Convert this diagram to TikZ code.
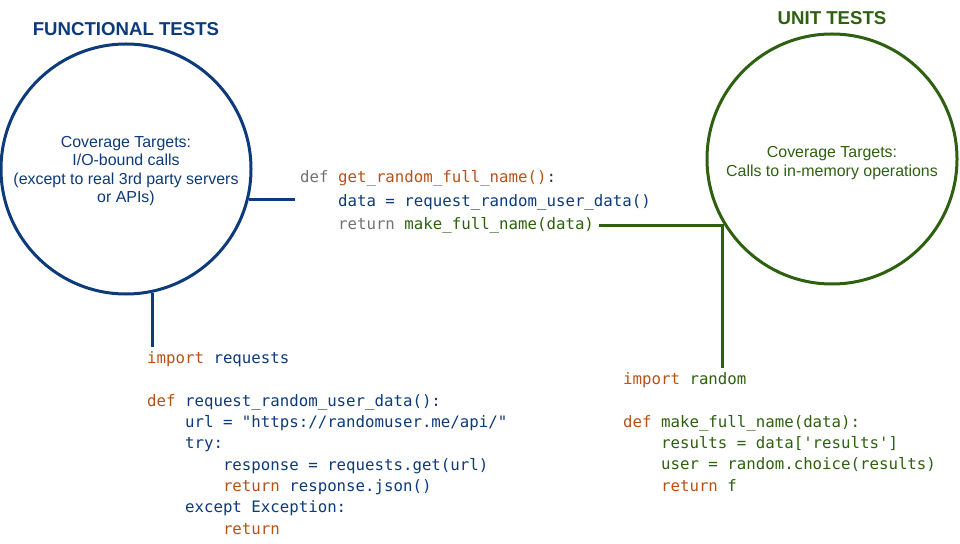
\documentclass[tikz,border=0pt]{standalone}
\usepackage{fontspec}
\setmainfont{Liberation Sans}
\setmonofont{DejaVu Sans Mono}
\usepackage{tikz}
\usetikzlibrary{positioning}
\definecolor{ftblue}{RGB}{12,58,122}
\definecolor{utgreen}{RGB}{45,96,15}
\definecolor{kwred}{RGB}{183,82,22}
\definecolor{kwgray}{RGB}{115,115,115}
\newcommand{\ind}{\hphantom{xxxx}}

\begin{document}
\begin{tikzpicture}[x=1bp, y=-1bp,
        ring/.style={circle, draw, line width=3bp, minimum size=250bp, inner sep=0},
        heading/.style={font=\bfseries\fontsize{18.7}{21}\selectfont, inner sep=0},
        target/.style={align=center, font=\fontsize{16}{18.3}\selectfont, inner sep=0},
        codeline/.style={anchor=base west, inner sep=5bp, font=\ttfamily\fontsize{15.8}{21.4}\selectfont},
        codeblock/.style={align=left, anchor=north west, inner sep=5bp, font=\ttfamily\fontsize{15.8}{21.4}\selectfont},
        link/.style={line width=3bp}]
        \useasboundingbox (0, 0) rectangle (960, 544);
        \node[ring, draw=ftblue] (functional) at (126, 169) {};
        \node[ring, draw=utgreen] (unit) at (832, 159) {};
        \node[heading, text=ftblue, above=7bp of functional] (functionaltitle) {FUNCTIONAL TESTS};
        \node[heading, text=utgreen, above=8bp of unit] (unittitle) {UNIT TESTS};
        \node[target, text=ftblue] (functionaltarget) at (126, 171) {Coverage Targets:\\I/O-bound calls\\(except to real 3rd party servers\\or APIs)};
        \node[target, text=utgreen] (unittarget) at (832, 163) {Coverage Targets:\\Calls to in-memory operations};
        \node[codeline, text=kwgray] (getdef) at (295, 183) {def {\color{kwred}get\_random\_full\_name()}{\color{black!80}:}};
        \node[codeline, text=ftblue] (getdata) at (295, 206.5) {\ind data = request\_random\_user\_data()};
        \node[codeline, text=kwgray] (getreturn) at (295, 229.5) {\ind return {\color{utgreen}make\_full\_name(data)}};
        \node[codeblock, text=ftblue] (requestscode) at (142, 346.5) {{\color{kwred}import} requests\\
                \mbox{}\\
                {\color{kwred}def} request\_random\_user\_data():\\
                \ind url = "https://randomuser.me/api/"\\
                \ind try:\\
                \ind\ind response = requests.get(url)\\
                \ind\ind {\color{kwred}return} response.json()\\
                \ind except Exception:\\
                \ind\ind {\color{kwred}return}};
        \node[codeblock, text=utgreen] (randomcode) at (618, 367.5) {{\color{kwred}import} random\\
                \mbox{}\\
                {\color{kwred}def} make\_full\_name(data):\\
                \ind results = data['results']\\
                \ind user = random.choice(results)\\
                \ind {\color{kwred}return} f};
        \draw[link, ftblue] (functional.-14) -- (functional.-14 -| getdata.west);
        \draw[link, ftblue] (functional.-78) -- (functional.-78 |- requestscode.north);
        \draw[link, utgreen] (getreturn.east) -- (getreturn.east -| unit.210) -- (unit.210 |- randomcode.north);
\end{tikzpicture}
\end{document}
